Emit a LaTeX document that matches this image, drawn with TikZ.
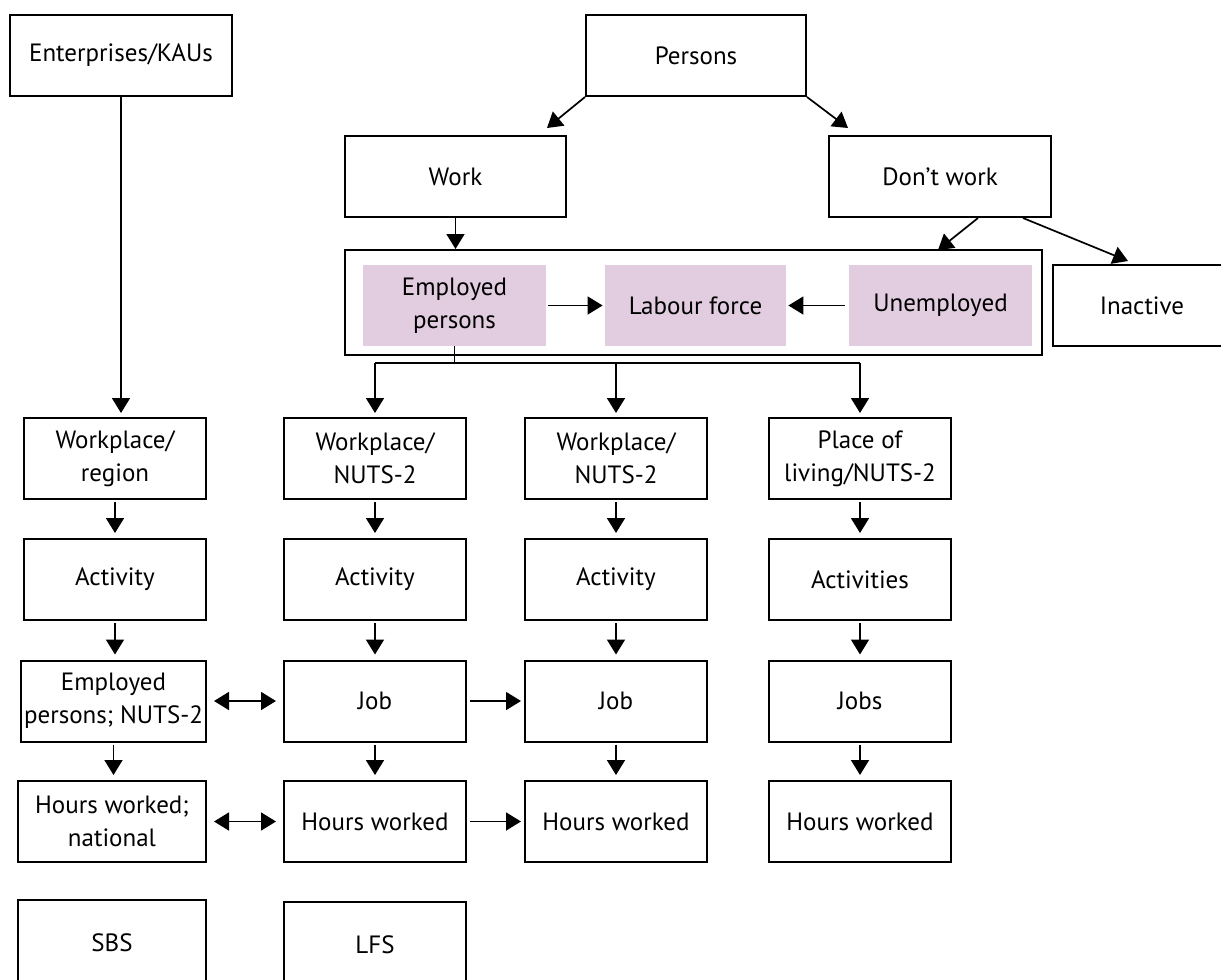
\documentclass[tikz,border=0pt]{standalone}
\usepackage{fontspec}
\setmainfont{PT Sans}
\usetikzlibrary{arrows.meta, positioning, calc}
\definecolor{lfpurple}{HTML}{E1CCE0}

\begin{document}
\begin{tikzpicture}[
    x=0.5pt, y=-0.5pt,
    box/.style={rectangle, draw=black, line width=1pt, minimum width=#1, minimum height=40.5pt, inner sep=1pt, align=center, font=\fontsize{12.5}{16.3}\selectfont},
    box/.default=91pt,
    lfcell/.style={rectangle, fill=lfpurple, minimum width=#1, minimum height=40.5pt, inner sep=1pt, align=center, font=\fontsize{12.5}{16.3}\selectfont},
    arrow/.style={-{Triangle[length=7.5pt, width=9pt]}, line width=0.85pt, shorten >=2pt},
    biarrow/.style={{Triangle[length=7.5pt, width=9pt]}-{Triangle[length=7.5pt, width=9pt]}, line width=0.85pt, shorten >=3.5pt, shorten <=3.5pt}
]
\useasboundingbox (0,0) rectangle (1221,980);

% Top level
\node[box=111pt] (ent) at (121,55.5) {Enterprises/KAUs};
\node[box=110pt] (pers) at (696,55.5) {Persons};
\node[box=110.5pt] (work) at (455.5,176.5) {Work};
\node[box=111pt] (nowork) at (940,176.5) {Don’t work};

% Labour force block
\node[draw, line width=1pt, minimum width=348.5pt, minimum height=52.5pt] (lfbox) at (693.5,302.5) {};
\node[lfcell=91.5pt] (emp) at (454.5,305.5) {Employed\\persons};
\node[lfcell=90.5pt] (lab) at (695.5,305.5) {Labour force};
\node[lfcell=91.5pt] (unemp) at (940.5,305.5) {Unemployed};
\node[box=89pt] (inact) at (1142,305.5) {Inactive};

% Column 1
\node[box] (wreg) at (115,458.5) {Workplace/\\region};
\node[box] (act1) at (115,579.5) {Activity};
\node[box=92.5pt] (emp1) at (113.5,701) {Employed\\persons; NUTS-2};
\node[box=94pt] (hrs1) at (112,821.5) {Hours worked;\\national};
\node[box=94pt, minimum height=43pt] (sbs) at (112,943) {SBS};

% Column 2
\node[box] (wp2) at (375,458.5) {Workplace/\\NUTS-2};
\node[box] (act2) at (375,579.5) {Activity};
\node[box] (job2) at (375,701) {Job};
\node[box] (hrs2) at (375,821.5) {Hours worked};
\node[box, minimum height=43pt] (lfs) at (375,945) {LFS};

% Column 3
\node[box] (wp3) at (616,458.5) {Workplace/\\NUTS-2};
\node[box] (act3) at (616,579.5) {Activity};
\node[box] (job3) at (616,701) {Job};
\node[box] (hrs3) at (616,821.5) {Hours worked};

% Column 4
\node[box] (wp4) at (860,458.5) {Place of\\living/NUTS-2};
\node[box] (act4) at (860,579.5) {Activities};
\node[box] (job4) at (860,701) {Jobs};
\node[box] (hrs4) at (860,821.5) {Hours worked};

% Arrow ends near the top
\coordinate (workin) at (547,128);
\coordinate (noworkin) at (848,128);
\coordinate (unempin) at (938,250);
\coordinate (inactin) at (1128,261);
\coordinate (bus) at (0,363);

% Top arrows
\draw[arrow, shorten >=0pt] (pers.south west) -- (workin);
\draw[arrow, shorten >=0pt] (pers.south east) -- (noworkin);
\draw[arrow, shorten >=0pt] ($(nowork.south)+(38,0)$) -- (unempin);
\draw[arrow, shorten >=0pt] ($(nowork.south)+(83,0)$) -- (inactin);
\draw[arrow, shorten >=0pt] (work.south) -- (work.south |- lfbox.north);
\draw[arrow, shorten >=1pt, shorten <=1pt] (emp.east) -- (lab.west);
\draw[arrow, shorten >=1pt, shorten <=2pt] (unemp.west) -- (lab.east);

% Enterprises down to workplace
\draw[arrow] (ent.south) -- (ent.south |- wreg.north);

% Employed persons split to the columns
\draw[line width=0.85pt] (emp.south) -- (emp.south |- bus);
\draw[line width=0.85pt] (wp2.north |- bus) -- (wp4.north |- bus);
\foreach \c in {wp2, wp3, wp4}
    \draw[arrow] (\c.north |- bus) -- (\c.north);

% Column arrows
\foreach \a/\b in {wreg/act1, act1/emp1, emp1/hrs1, wp2/act2, act2/job2, job2/hrs2, wp3/act3, act3/job3, job3/hrs3, wp4/act4, act4/job4, job4/hrs4}
    \draw[arrow, shorten <=1pt, shorten >=2.5pt] (\a.south) -- (\a.south |- \b.north);

% Row arrows
\draw[biarrow] (emp1) -- (job2);
\draw[biarrow] (hrs1) -- (hrs2);
\draw[arrow, shorten <=1.5pt, shorten >=1.5pt] (job2) -- (job3);
\draw[arrow, shorten <=1.5pt, shorten >=1.5pt] (hrs2) -- (hrs3);

\end{tikzpicture}
\end{document}
